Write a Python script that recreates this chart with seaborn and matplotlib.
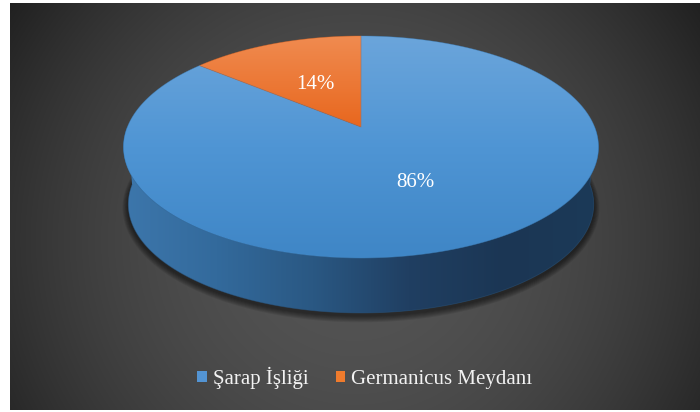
import numpy as np
import matplotlib
matplotlib.use("Agg")
import matplotlib.pyplot as plt
import seaborn as sns
from matplotlib.patches import Polygon, Patch
from matplotlib.font_manager import FontProperties

# ---- data ----
categories = ["Şarap İşliği", "Germanicus Meydanı"]
values = [86, 14]
legend_colors = ["#5394d3", "#ef7b2d"]
top_grad = [["#6ba5db", "#4f95d4", "#3f86c6"], ["#f08b50", "#e8671e"]]

sns.set_theme(style="white")
plt.rcParams["font.family"] = ["Liberation Serif", "DejaVu Serif"]

W, H = 700, 412
fig = plt.figure(figsize=(7.0, 4.12), dpi=100, facecolor="white")
ax = fig.add_axes([0, 0, 1, 1])
ax.axis("off")

# background radial gradient
yy, xx = np.mgrid[3:410, 10:700] + 0.5
d = np.hypot(xx - 355, yy - 240)
val = np.clip((84 - 52 * (d / 420) ** 2) / 255, 0, 1)
bg = np.dstack([val, val, val])
ax.imshow(bg, extent=[10, 700, 410, 3], aspect="auto", interpolation="bilinear", zorder=0)

# projection parameters (perspective pie)
k = 0.18
cx, cy, A, B = 361.0, 127.0, 233.6, 107.4
Ab, Bb, cyb = A * 0.98, B * 0.98, 184.6


def proj(theta_deg, r=1.0, a=A, b=B, yc=cy):
    t = np.radians(theta_deg)
    u, v = r * np.cos(t), r * np.sin(t)
    s = 1.0 / (1.0 + k * v)
    return cx + a * u * s, yc - b * v * s


def grad_fill(xy, colors, extent, vertical=True, z=1):
    poly = Polygon(xy, closed=True, facecolor="none", edgecolor="none", transform=ax.transData)
    ax.add_patch(poly)
    g = np.linspace(0, 1, 256)
    arr = g[:, None] if vertical else g[None, :]
    cmap = sns.blend_palette(colors, as_cmap=True)
    im = ax.imshow(arr, cmap=cmap, extent=extent, aspect="auto", interpolation="bicubic", zorder=z)
    im.set_clip_path(poly)
    return poly

# shadow under the pie
th = np.linspace(0, 360, 400)
for e in range(1, 8):
    sx, sy = proj(th, a=Ab + e * 0.8, b=Bb + e * 0.8, yc=cyb + 2.5)
    ax.fill(sx, sy, color="black", alpha=0.085, lw=0, zorder=0.5)

# side wall
th_side = np.linspace(180, 360, 300)
tx, ty = proj(th_side)
bx, by = proj(th_side[::-1], a=Ab, b=Bb, yc=cyb)
side_xy = np.column_stack([np.concatenate([tx, bx]), np.concatenate([ty, by])])
grad_fill(side_xy, ["#3d77ac", "#336a9c", "#2a5883", "#203f62", "#1b3654", "#1c3a58"],
          [120, 602, 320, 120], vertical=False, z=1)
ax.plot(np.concatenate([tx, bx]), np.concatenate([ty, by]), color="#2a5680", lw=0.6, alpha=0.5, zorder=1.1)

# top face slices
total = sum(values)
start = 90.0
label_pos = []
for i, v in enumerate(values):
    span = 360.0 * v / total
    end = start - span
    arc = np.linspace(start, end, max(int(span * 2), 10))
    ax_, ay_ = proj(arc)
    xy = np.column_stack([np.concatenate([[cx], ax_]), np.concatenate([[cy], ay_])])
    ylow = 258 if i == 0 else cy
    grad_fill(xy, top_grad[i], [cx - A - 10, cx + A + 10, ylow, 36], vertical=True, z=2)
    ax.fill(xy[:, 0], xy[:, 1], facecolor="none", edgecolor=top_grad[i][-1], lw=0.5, alpha=0.5, zorder=2.1)
    mid = (start + end) / 2
    label_pos.append(proj(mid, r=0.5))
    start = end

for (lx, ly), v in zip(label_pos, values):
    ax.text(lx, ly + 7, f"{v / total * 100:.0f}%", ha="center", va="baseline", color="white",
            fontsize=15, family=["Liberation Serif"], zorder=5)

handles = [Patch(facecolor=c, edgecolor="none") for c in legend_colors]
ax.legend(handles, categories, loc="center", bbox_to_anchor=(365, 378), bbox_transform=ax.transData,
          ncol=2, frameon=False, prop=FontProperties(family="Liberation Serif", size=15),
          labelcolor="#f2f2f2", handlelength=0.45, handleheight=0.45, handletextpad=0.3,
          columnspacing=1.3)

ax.set_xlim(0, W)
ax.set_ylim(H, 0)
fig.savefig("out.png", dpi=100, facecolor="white")
